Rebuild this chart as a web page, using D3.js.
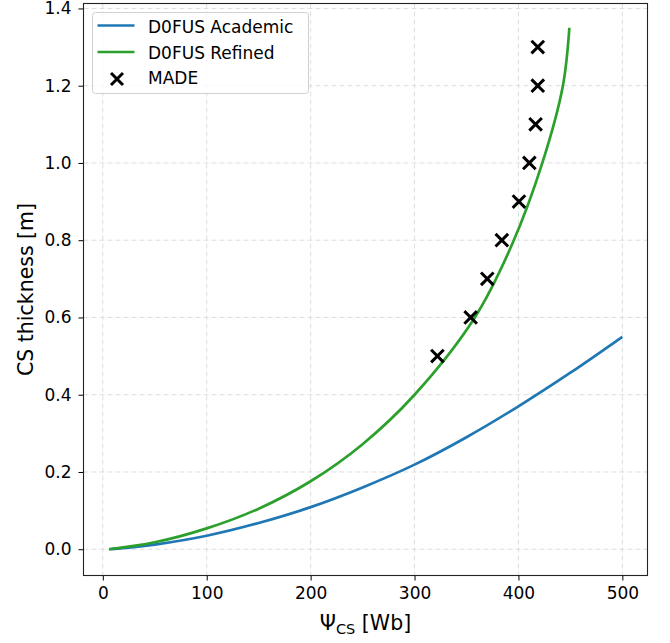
<!DOCTYPE html>
<html>
<head>
<meta charset="utf-8">
<script src="https://cdn.jsdelivr.net/npm/d3@7"></script>
<style>
  html, body { margin: 0; padding: 0; background: #fff; }
  svg { display: block; font-family: "DejaVu Sans", sans-serif; }
</style>
</head>
<body>
<svg id="chart" width="670" height="643"></svg>
<script>
// Central solenoid flux (Wb) vs. required thickness (m)
const academicPsi = [6, 25, 50, 100, 150, 200, 250, 300, 350, 400, 450, 500];
const academicThk = [0.0, 0.004, 0.012, 0.035, 0.068, 0.109, 0.16, 0.219, 0.29, 0.37, 0.457, 0.55];

const refinedPsi = [6, 50, 100, 150, 200, 250, 300, 358, 394, 423, 442.6, 449];
const refinedThk = [0.0, 0.018, 0.054, 0.105, 0.176, 0.272, 0.40, 0.60, 0.79, 1.0, 1.197, 1.35];

const madePsi = [322, 354, 370, 384, 400.5, 410.5, 416.5, 418.6, 418.6];
const madeThk = [0.5, 0.6, 0.7, 0.8, 0.9, 1.0, 1.1, 1.2, 1.3];

const xTicks = [0, 100, 200, 300, 400, 500];
const yTicks = [0.0, 0.2, 0.4, 0.6, 0.8, 1.0, 1.2, 1.4];

const seriesNames = ["D0FUS Academic", "D0FUS Refined", "MADE"];
const colors = { academic: "#1f77b4", refined: "#2ca02c", made: "#000000" };

(function () {
  const svg = d3.select("#chart");
  const pL = 83.5, pR = 647.5, pT = 3.5, pB = 575.5;

  const x = d3.scaleLinear().domain([-18.6, 524.2]).range([pL, pR]);
  const y = d3.scaleLinear().domain([-0.068, 1.4128]).range([pB, pT]);

  // grid
  const grid = svg.append("g");
  grid.selectAll("line.vx").data(xTicks).join("line")
    .attr("x1", d => x(d)).attr("x2", d => x(d))
    .attr("y1", pT).attr("y2", pB)
    .attr("stroke", "#dedede").attr("stroke-width", 1).attr("stroke-dasharray", "5,3");
  grid.selectAll("line.hy").data(yTicks).join("line")
    .attr("y1", d => y(d)).attr("y2", d => y(d))
    .attr("x1", pL).attr("x2", pR)
    .attr("stroke", "#dedede").attr("stroke-width", 1).attr("stroke-dasharray", "5,3");

  // curves
  const line = d3.line().x(d => x(d[0])).y(d => y(d[1])).curve(d3.curveCatmullRom.alpha(0.5));
  const plot = svg.append("g");
  plot.append("path")
    .datum(d3.zip(academicPsi, academicThk))
    .attr("d", line).attr("fill", "none")
    .attr("stroke", colors.academic).attr("stroke-width", 2.7);
  plot.append("path")
    .datum(d3.zip(refinedPsi, refinedThk))
    .attr("d", line).attr("fill", "none")
    .attr("stroke", colors.refined).attr("stroke-width", 2.7);

  // MADE markers
  const ms = 6.3;
  const cross = s => `M${-s},${-s}L${s},${s}M${-s},${s}L${s},${-s}`;
  plot.selectAll("path.made").data(d3.zip(madePsi, madeThk)).join("path")
    .attr("class", "made")
    .attr("transform", d => `translate(${x(d[0])},${y(d[1])})`)
    .attr("d", cross(ms))
    .attr("stroke", colors.made).attr("stroke-width", 3).attr("fill", "none");

  // axes
  const xAxis = svg.append("g").attr("transform", `translate(0,${pB})`)
    .call(d3.axisBottom(x).tickValues(xTicks).tickFormat(d3.format("d")).tickSize(5).tickSizeOuter(0).tickPadding(6.5));
  const yAxis = svg.append("g").attr("transform", `translate(${pL},0)`)
    .call(d3.axisLeft(y).tickValues(yTicks).tickFormat(d3.format(".1f")).tickSize(5).tickSizeOuter(0).tickPadding(7));
  [xAxis, yAxis].forEach(a => {
    a.select(".domain").remove();
    a.selectAll("text").attr("font-size", 17).attr("fill", "#000").attr("font-family", "DejaVu Sans");
    a.selectAll("line").attr("stroke", "#000").attr("stroke-width", 1);
  });

  // frame
  svg.append("rect").attr("x", pL).attr("y", pT)
    .attr("width", pR - pL).attr("height", pB - pT)
    .attr("fill", "none").attr("stroke", "#222").attr("stroke-width", 1.1);

  // axis labels
  const xl = svg.append("text").attr("x", (pL + pR) / 2).attr("y", 630)
    .attr("text-anchor", "middle").attr("font-size", 20.5).attr("fill", "#000");
  xl.append("tspan").text("Ψ");
  xl.append("tspan").attr("font-size", 14.5).attr("dy", 4).text("CS");
  xl.append("tspan").attr("dy", -4).text(" [Wb]");

  svg.append("text")
    .attr("transform", `translate(33,${(pT + pB) / 2}) rotate(-90)`)
    .attr("text-anchor", "middle").attr("font-size", 20.5).attr("fill", "#000")
    .text("CS thickness [m]");

  // legend
  const lg = svg.append("g");
  lg.append("rect").attr("x", 92.5).attr("y", 12.5).attr("width", 216).attr("height", 81)
    .attr("rx", 3).attr("fill", "#fff").attr("fill-opacity", 0.8)
    .attr("stroke", "#d0d0d0").attr("stroke-width", 1);
  const handleY = [25.5, 52, 79];
  const textY = [27, 53.3, 78.5];
  lg.append("line").attr("x1", 97.5).attr("x2", 134.5).attr("y1", handleY[0]).attr("y2", handleY[0])
    .attr("stroke", colors.academic).attr("stroke-width", 2.7);
  lg.append("line").attr("x1", 97.5).attr("x2", 134.5).attr("y1", handleY[1]).attr("y2", handleY[1])
    .attr("stroke", colors.refined).attr("stroke-width", 2.7);
  lg.append("path")
    .attr("transform", `translate(117,${handleY[2]})`)
    .attr("d", cross(6))
    .attr("stroke", colors.made).attr("stroke-width", 3);
  lg.selectAll("text").data(seriesNames).join("text")
    .attr("x", 148).attr("y", (d, i) => textY[i]).attr("dy", "0.35em")
    .attr("font-size", 17).attr("fill", "#000").text(d => d);
})();
</script>
</body>
</html>
